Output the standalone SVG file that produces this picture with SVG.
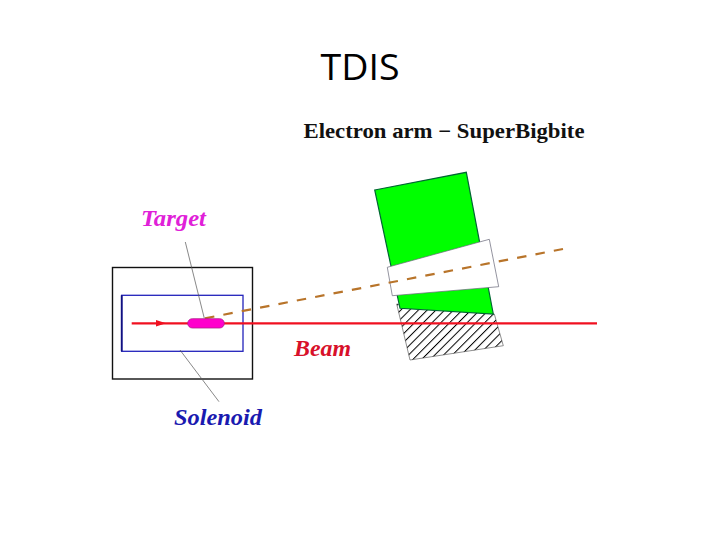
<svg xmlns="http://www.w3.org/2000/svg" width="720" height="540" viewBox="0 0 720 540">
<style>
.ser{font-family:"Liberation Serif","Times New Roman",serif;font-weight:700}
.it{font-style:italic;font-size:23px}
.thin{fill:none;stroke:#555;stroke-width:.7}
</style>
<defs>
<pattern id="h" width="6.2" height="6.2" patternUnits="userSpaceOnUse" patternTransform="rotate(45)">
<rect width="6.2" height="6.2" fill="#fff"/><line x1="0" y1="0" x2="0" y2="6.2" stroke="#000" stroke-width="2"/>
</pattern>
</defs>
<rect width="720" height="540" fill="#fff"/>
<text x="320.500" y="80" font-family="'Open Sans',sans-serif" font-size="36" textLength="79" lengthAdjust="spacingAndGlyphs" fill="#000">TDIS</text>
<text class="ser" x="303.500" y="138" font-size="21" textLength="281" lengthAdjust="spacingAndGlyphs" fill="#111">Electron arm − SuperBigbite</text>
<g id="spectrometer">
<path d="M396.700 304L410 360L503.300 345.700L494.300 314Z" fill="url(#h)" stroke="#444" stroke-width=".6"/>
<path d="M374.700 190L466.300 172.300L493.300 314L400 308.300Z" fill="#0f0" stroke="#063" stroke-width="1.200"/>
<path d="M387.300 267.300L489.300 239.300L498.700 286.700L392.300 295.700Z" fill="#fff" stroke="#667" stroke-width=".7"/>
</g>
<g id="solenoid">
<rect x="112.500" y="267.500" width="140" height="111.500" fill="none" stroke="#111" stroke-width="1.400"/>
<rect x="121.700" y="295.300" width="121.300" height="56" fill="none" stroke="#2222bb" stroke-width="1.300"/>
<line x1="121.700" y1="295.300" x2="121.700" y2="351.300" stroke="#111180" stroke-width="1.800"/>
<text class="ser it" x="174" y="425" fill="#1a1ab0" textLength="88" lengthAdjust="spacingAndGlyphs">Solenoid</text>
</g>
<text id="beam" class="ser it" x="294" y="356" fill="#d8102a" textLength="57" lengthAdjust="spacingAndGlyphs">Beam</text>
<g id="connectors">
<line x1="131.700" y1="323.300" x2="597" y2="323.300" stroke="#f01020" stroke-width="2.200"/>
<path d="M156 320L166 323.300L156 326.500Z" fill="#f01020"/>
<line x1="205" y1="318.300" x2="563" y2="249" stroke="#b8742a" stroke-width="2.200" stroke-dasharray="9.500 9.200"/>
<line class="thin" x1="185.300" y1="242" x2="204.300" y2="318.300"/>
<line class="thin" x1="180" y1="350" x2="219" y2="401.700"/>
</g>
<g id="target">
<rect x="187.700" y="318.700" width="36.600" height="9.300" rx="4.600" fill="#f0c" stroke="#b0208a" stroke-width=".8"/>
<text class="ser it" x="141" y="226" fill="#e020d8" textLength="65" lengthAdjust="spacingAndGlyphs">Target</text>
</g>
</svg>
